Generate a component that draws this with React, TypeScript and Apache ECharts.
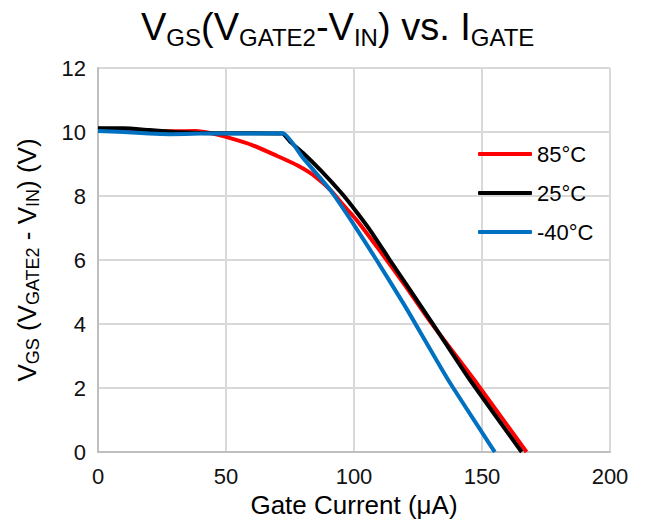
import React, { useEffect, useRef } from "react";
import * as echarts from "echarts";

// Gate current (µA) and VGS (V)
const red85X = [0, 10, 20, 30, 38, 45, 52, 60, 70, 78, 85, 91, 96, 101, 110, 120, 130, 147, 167.4];
const red85Y = [10.1, 10.08, 10.04, 10.02, 10.03, 9.95, 9.8, 9.6, 9.25, 8.95, 8.6, 8.17, 7.7, 7.25, 6.3, 5.2, 4.05, 2.25, 0];

const black25X = [0, 10, 20, 30, 40, 50, 60, 72, 75, 80, 87, 95, 101, 107, 114, 130, 145.3, 165.5];
const black25Y = [10.12, 10.12, 10.06, 10.0, 9.97, 9.96, 9.96, 9.95, 9.7, 9.35, 8.8, 8.1, 7.5, 6.85, 6.0, 4.1, 2.25, 0];

const blue40X = [0, 10, 20, 28, 40, 55, 72.3, 80, 90.6, 100, 108.8, 120, 136.8, 155];
const blue40Y = [10.03, 10.0, 9.95, 9.93, 9.95, 9.95, 9.96, 9.2, 8.2, 7.1, 6.0, 4.55, 2.25, 0];

const seriesNames = ["85°C", "25°C", "-40°C"];
const seriesColors = ["#FF0000", "#000000", "#0070C0"];

const xMin = 0, xMax = 200, xStep = 50;
const yMin = 0, yMax = 12, yStep = 2;

const FONT = "Liberation Sans, Arial, sans-serif";

const zip = (xs: number[], ys: number[]) => xs.map((x, i) => [x, ys[i]]);

export default function App() {
  const ref = useRef<HTMLDivElement>(null);
  useEffect(() => {
    document.body.style.margin = "0";
    if (!ref.current) return;
    const chart = echarts.init(ref.current, undefined, { renderer: "svg" });
    const main = { fontSize: 38, fontFamily: FONT, color: "#000", fontWeight: "normal", lineHeight: 44 };
    const sub = { fontSize: 24, fontFamily: FONT, color: "#000", fontWeight: "normal", lineHeight: 22, verticalAlign: "bottom" };
    const nm = { fontSize: 26, fontFamily: FONT, color: "#000", lineHeight: 30 };
    const ns = { fontSize: 18, fontFamily: FONT, color: "#000", lineHeight: 16, verticalAlign: "bottom" };
    const data = [zip(red85X, red85Y), zip(black25X, black25Y), zip(blue40X, blue40Y)];
    chart.setOption({
      animation: false,
      title: {
        text: "{m|V}{s|GS}{m|(V}{s|GATE2}{m|-V}{s|IN}{m|) vs. I}{s|GATE}",
        left: 141,
        top: 5,
        padding: 0,
        textStyle: { fontWeight: "normal", rich: { m: main, s: sub } },
      },
      grid: { left: 98, right: 39, top: 68, bottom: 75 },
      legend: {
        orient: "vertical",
        left: 478,
        top: 143,
        padding: 0,
        icon: "roundRect",
        itemWidth: 54,
        itemHeight: 4,
        itemGap: 17,
        data: seriesNames,
        textStyle: { fontSize: 22, fontFamily: FONT, color: "#000", lineHeight: 22 },
      },
      xAxis: {
        type: "value",
        min: xMin,
        max: xMax,
        interval: xStep,
        name: "Gate Current (μA)",
        nameLocation: "middle",
        nameGap: 37,
        nameTextStyle: { fontSize: 26, fontFamily: FONT, color: "#000" },
        axisLine: { show: true, lineStyle: { color: "#bfbfbf", width: 2 } },
        axisTick: { show: false },
        axisLabel: { fontSize: 22, fontFamily: FONT, color: "#111", margin: 13 },
        splitLine: { show: true, lineStyle: { color: "#d9d9d9", width: 2 } },
      },
      yAxis: {
        type: "value",
        min: yMin,
        max: yMax,
        interval: yStep,
        name: "{m|V}{s|GS}{m| (V}{s|GATE2}{m| - V}{s|IN}{m|) (V)}",
        nameLocation: "middle",
        nameGap: 56,
        nameTextStyle: { rich: { m: nm, s: ns } },
        axisLine: { show: true, lineStyle: { color: "#bfbfbf", width: 2 } },
        axisTick: { show: false },
        axisLabel: { fontSize: 22, fontFamily: FONT, color: "#111", margin: 12 },
        splitLine: { show: true, lineStyle: { color: "#d9d9d9", width: 2 } },
      },
      series: seriesNames.map((name, i) => ({
        name,
        type: "line",
        data: data[i],
        symbol: "none",
        smooth: i === 0 ? 0.25 : 0.15,
        lineStyle: { color: seriesColors[i], width: 4 },
        itemStyle: { color: seriesColors[i] },
      })),
    });
    return () => chart.dispose();
  }, []);
  return <div ref={ref} style={{ width: 649, height: 527 }} />;
}
